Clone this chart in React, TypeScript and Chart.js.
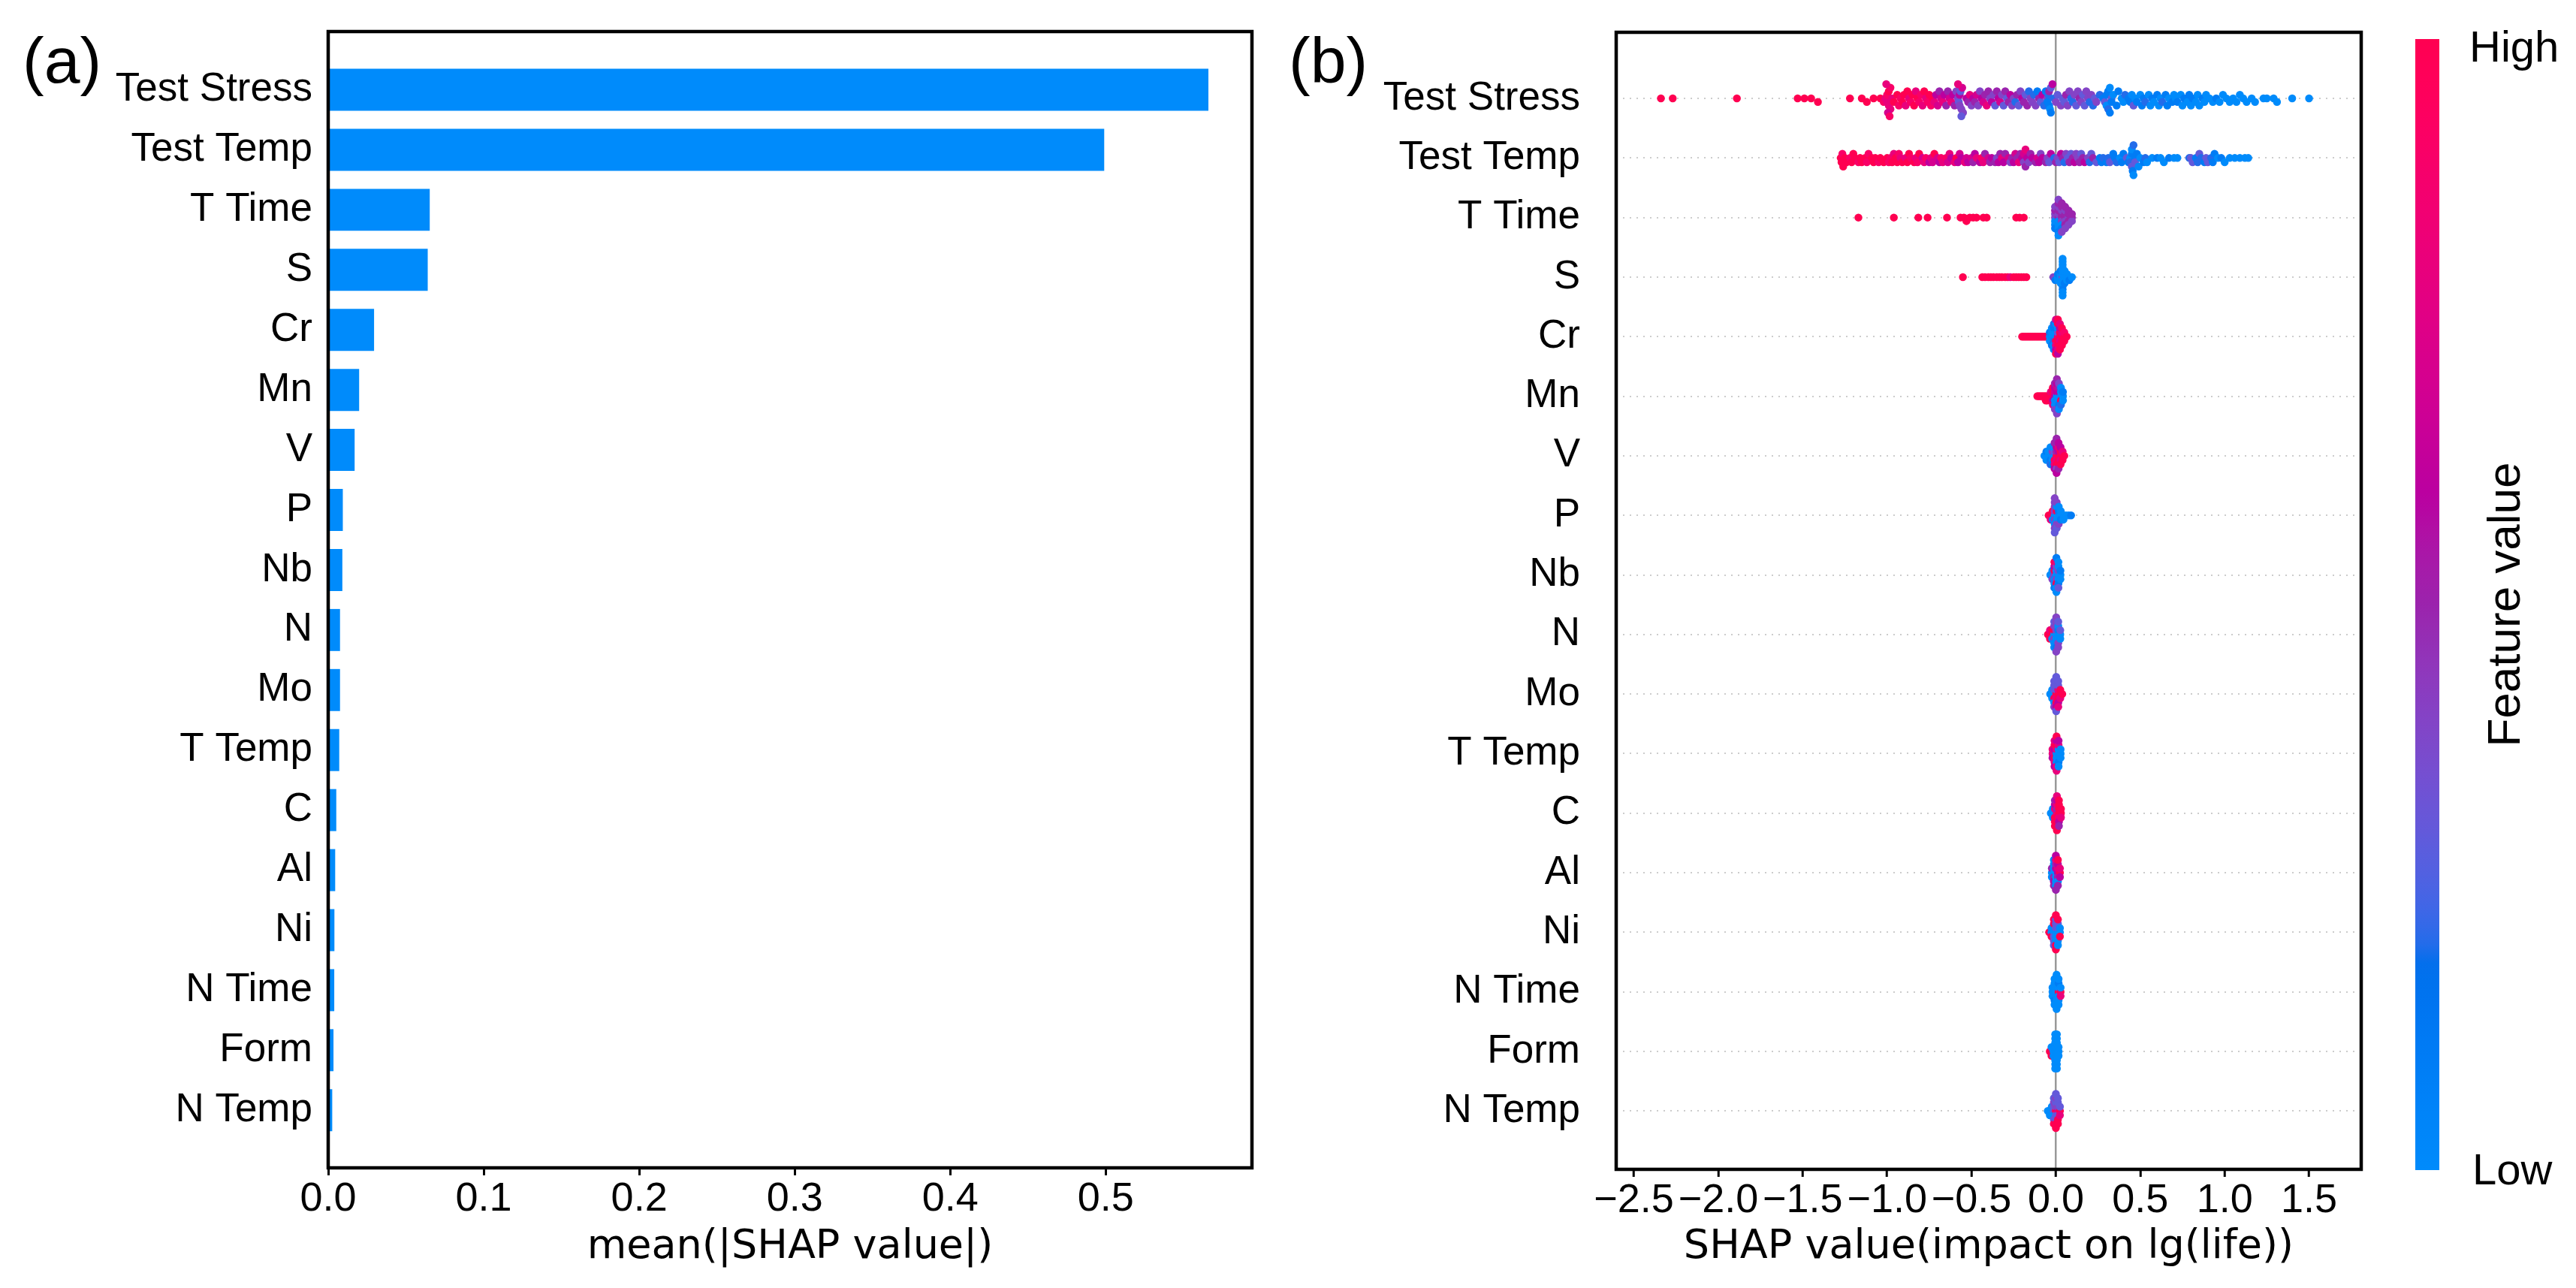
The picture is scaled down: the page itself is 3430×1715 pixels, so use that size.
import React, { useEffect, useRef } from "react";
import { Chart, registerables } from "chart.js";

Chart.register(...registerables);

// ---------------- data ----------------
const features = ["Test Stress", "Test Temp", "T Time", "S", "Cr", "Mn", "V", "P", "Nb", "N", "Mo", "T Temp", "C", "Al", "Ni", "N Time", "Form", "N Temp"];
const meanAbsShap = [0.566, 0.499, 0.0653, 0.064, 0.0295, 0.0199, 0.017, 0.0094, 0.0091, 0.0076, 0.0076, 0.0071, 0.0052, 0.0045, 0.004, 0.0039, 0.0034, 0.0026];
const barTicks = [0, 0.1, 0.2, 0.3, 0.4, 0.5];
const shapTicks = [-2.5, -2, -1.5, -1, -0.5, 0, 0.5, 1, 1.5];
const barTitle = "mean(|SHAP value|)";
const swarmTitle = "SHAP value(impact on lg(life))";
const colorbarTitle = "Feature value";
const colorbarHigh = "High";
const colorbarLow = "Low";

// Beeswarm rows: each entry = [SHAP value, feature level(s) 0..10 (Low..High)].
// Several levels after one SHAP value = several samples sharing that value.
const rowTestStress = [
  [-2.34, 10], [-2.27, 10], [-1.89, 10], [-1.53, 10], [-1.49, 10], [-1.45, 10], [-1.41, 10], [-1.22, 10], [-1.15, 10], [-1.12, 10], [-1.08, 10],
  [-1.04, 10], [-1.02, 9], [-1.01, 8], [-1.0, 8], [-1.0, 9], [-0.99, 8], [-0.99, 10], [-0.98, 8], [-0.98, 9], [-0.97, 8], [-0.96, 10], [-0.995, 7], [-1.005, 8], [-0.985, 9],
  [-0.94, 10], [-0.93, 9], [-0.92, 9], [-0.91, 10], [-0.9, 10], [-0.89, 8], [-0.88, 10], [-0.87, 8], [-0.86, 9], [-0.85, 10], [-0.84, 10], [-0.83, 8], [-0.82, 10], [-0.81, 9], [-0.8, 9], [-0.79, 8], [-0.78, 10], [-0.77, 8], [-0.76, 9], [-0.75, 10], [-0.74, 9], [-0.73, 10], [-0.72, 8],
  [-0.71, 6], [-0.7, 7], [-0.69, 5], [-0.68, 7], [-0.67, 8], [-0.66, 6], [-0.65, 5], [-0.64, 5], [-0.63, 7], [-0.62, 8], [-0.61, 6], [-0.6, 5], [-0.59, 4], [-0.58, 4], [-0.575, 3], [-0.57, 6], [-0.57, 4], [-0.565, 3], [-0.56, 4], [-0.555, 7], [-0.55, 4], [-0.58, 8], [-0.56, 3], [-0.53, 6], [-0.52, 5], [-0.51, 8], [-0.5, 4],
  [-0.49, 6], [-0.48, 5], [-0.47, 7], [-0.46, 4], [-0.45, 4], [-0.44, 6], [-0.43, 7], [-0.42, 5], [-0.41, 8], [-0.4, 5], [-0.39, 4], [-0.38, 6], [-0.37, 4], [-0.36, 3], [-0.35, 5], [-0.34, 6], [-0.33, 7], [-0.32, 4], [-0.31, 3], [-0.3, 5], [-0.29, 3], [-0.28, 5], [-0.27, 6], [-0.26, 4], [-0.25, 4], [-0.24, 2], [-0.23, 5], [-0.22, 3], [-0.21, 4], [-0.2, 6], [-0.19, 5], [-0.18, 3], [-0.17, 5], [-0.16, 2], [-0.15, 4], [-0.14, 4],
  [-0.13, 2], [-0.12, 4], [-0.11, 1], [-0.1, 5], [-0.09, 3], [-0.08, 6], [-0.07, 2], [-0.06, 1], [-0.05, 4], [-0.05, 1], [-0.045, 2], [-0.04, 1], [-0.04, 5], [-0.035, 0], [-0.03, 3], [-0.03, 1], [-0.02, 6], [-0.01, 2], [0.0, 4], [0.01, 3],
  [0.03, 4], [0.04, 3], [0.05, 3], [0.06, 5], [0.07, 4], [0.08, 4], [0.09, 2], [0.1, 2], [0.11, 4], [0.12, 3], [0.13, 4], [0.14, 5], [0.15, 4], [0.16, 3], [0.17, 3], [0.18, 4], [0.19, 4], [0.2, 2], [0.21, 4], [0.22, 2], [0.23, 3], [0.24, 4],
  [0.26, 2], [0.28, 1], [0.29, 3], [0.3, 1], [0.3, 0], [0.31, 1], [0.31, 2], [0.32, 0], [0.32, 1], [0.33, 3], [0.33, 1], [0.34, 0],
  [0.36, 1], [0.37, 1], [0.39, 0], [0.4, 0], [0.41, 2], [0.43, 1], [0.44, 1], [0.45, 0], [0.46, 3], [0.47, 0], [0.48, 1], [0.5, 0], [0.51, 1], [0.52, 1], [0.53, 2], [0.55, 0], [0.56, 0], [0.57, 1], [0.58, 0], [0.6, 1], [0.61, 0], [0.62, 0], [0.63, 2], [0.65, 1], [0.66, 1], [0.67, 0], [0.69, 1], [0.7, 0], [0.71, 0], [0.72, 1], [0.74, 0], [0.75, 0], [0.76, 1], [0.78, 0], [0.79, 1], [0.8, 0], [0.81, 1], [0.83, 0], [0.84, 0], [0.85, 0], [0.87, 1], [0.88, 0], [0.89, 0], [0.91, 0], [0.93, 0], [0.95, 1], [0.97, 0], [0.99, 0], [1.01, 0], [1.03, 0], [1.05, 0], [1.07, 0], [1.09, 0], [1.11, 0], [1.13, 0], [1.16, 0], [1.18, 0],
  [1.23, 0], [1.25, 0], [1.29, 0], [1.31, 0], [1.4, 0], [1.5, 0],
];
const rowTestTemp = [
  [-1.275, 10], [-1.27, 10], [-1.265, 9], [-1.26, 10], [-1.25, 10], [-1.24, 10], [-1.22, 9], [-1.21, 10], [-1.2, 10], [-1.19, 10], [-1.17, 9], [-1.16, 10], [-1.15, 10], [-1.13, 10], [-1.12, 9], [-1.11, 9], [-1.09, 10], [-1.08, 10], [-1.07, 10], [-1.05, 9], [-1.04, 10],
  [-1.02, 10], [-1.0, 10], [-0.99, 9], [-0.98, 9], [-0.97, 10], [-0.96, 8], [-0.95, 10], [-0.94, 10], [-0.93, 9], [-0.92, 8], [-0.91, 10], [-0.89, 8], [-0.88, 10], [-0.87, 10], [-0.86, 9], [-0.84, 10], [-0.83, 8], [-0.82, 9], [-0.81, 10],
  [-0.79, 7], [-0.78, 8], [-0.77, 9], [-0.75, 6], [-0.74, 8], [-0.73, 7], [-0.72, 10], [-0.7, 7], [-0.69, 6], [-0.68, 9], [-0.67, 8], [-0.65, 9], [-0.64, 7], [-0.63, 8], [-0.62, 6], [-0.6, 8], [-0.59, 10], [-0.58, 6], [-0.57, 7], [-0.56, 6],
  [-0.54, 8], [-0.53, 7], [-0.52, 6], [-0.5, 7], [-0.49, 5], [-0.48, 6], [-0.47, 8], [-0.45, 6], [-0.44, 9], [-0.43, 8], [-0.42, 5], [-0.4, 7], [-0.39, 5], [-0.38, 6], [-0.36, 5], [-0.35, 4], [-0.34, 6], [-0.33, 5], [-0.32, 8],
  [-0.31, 6], [-0.3, 5], [-0.28, 7], [-0.27, 4], [-0.26, 5], [-0.25, 6], [-0.24, 7], [-0.23, 5], [-0.22, 8], [-0.21, 5], [-0.2, 6], [-0.19, 4], [-0.19, 7], [-0.18, 5], [-0.18, 8], [-0.17, 6], [-0.16, 4], [-0.15, 5], [-0.14, 6], [-0.12, 5], [-0.11, 7], [-0.1, 6], [-0.09, 4], [-0.08, 6], [-0.06, 5], [-0.05, 4],
  [-0.04, 3], [-0.03, 6], [-0.01, 2], [0.0, 5], [0.01, 4], [0.02, 3], [0.03, 6], [0.04, 5], [0.05, 2], [0.06, 4], [0.07, 3], [0.08, 5], [0.09, 3], [0.1, 5], [0.11, 6], [0.12, 4], [0.13, 4], [0.14, 5], [0.15, 3], [0.16, 5], [0.17, 6], [0.19, 4], [0.2, 2], [0.21, 3], [0.22, 5], [0.24, 3],
  [0.26, 1], [0.27, 1], [0.28, 2], [0.3, 1], [0.31, 2], [0.32, 3], [0.34, 1], [0.35, 1], [0.36, 2], [0.38, 0], [0.39, 1], [0.4, 1], [0.42, 3], [0.43, 1], [0.44, 0], [0.44, 2], [0.45, 1], [0.45, 3], [0.45, 0], [0.455, 1], [0.46, 2], [0.46, 0], [0.47, 1], [0.47, 3], [0.48, 1], [0.49, 0], [0.5, 0], [0.52, 1], [0.53, 2], [0.54, 0],
  [0.57, 0], [0.6, 1], [0.62, 0], [0.64, 0], [0.67, 1], [0.7, 0], [0.72, 0],
  [0.79, 2], [0.8, 3], [0.81, 3], [0.83, 1], [0.84, 2], [0.85, 3], [0.86, 2], [0.88, 1], [0.89, 3], [0.9, 3], [0.92, 2], [0.93, 1], [0.94, 1], [0.96, 0], [0.98, 1], [1.0, 0], [1.03, 0], [1.06, 0], [1.09, 0], [1.12, 0], [1.14, 0],
];
const rowTTime = [
  [-1.17, 10], [-0.96, 10], [-0.815, 10], [-0.76, 10], [-0.645, 10], [-0.565, 10], [-0.545, 10], [-0.53, 10], [-0.51, 10], [-0.49, 10], [-0.47, 10], [-0.43, 10], [-0.41, 10], [-0.235, 10], [-0.215, 10], [-0.19, 10],
  [-0.005, 4, 0, 4, 0, 5, 1, 4], [0.015, 5, 0, 4, 0, 5, 0, 4, 1, 5, 0, 4], [0.035, 5, 4, 5, 0, 4, 1, 5, 4, 5], [0.055, 5, 4, 5, 5, 4, 4, 5], [0.075, 4, 5, 5, 4, 5], [0.095, 5, 4, 5],
];
const rowS = [
  [-0.551, 10], [-0.436, 10], [-0.42, 10], [-0.4, 10], [-0.385, 10], [-0.37, 10], [-0.35, 10], [-0.335, 10], [-0.32, 10], [-0.3, 10], [-0.285, 10], [-0.27, 8], [-0.25, 10], [-0.235, 10], [-0.22, 10], [-0.205, 10], [-0.19, 10], [-0.175, 10],
  [-0.015, 4], [-0.003, 4, 1], [0.012, 0, 0, 1], [0.028, 0, 0, 0, 0, 1], [0.04, 4, 0, 0, 0, 0, 0, 0, 1, 0, 0, 0, 0, 0], [0.052, 0, 0, 0, 1, 0], [0.066, 0, 0, 0], [0.08, 0, 1], [0.095, 0],
];
const rowCr = [
  [-0.2, 10], [-0.19, 10], [-0.18, 10], [-0.17, 10], [-0.16, 10], [-0.15, 10], [-0.14, 10], [-0.13, 10], [-0.12, 10], [-0.11, 10], [-0.1, 10], [-0.09, 10], [-0.08, 10], [-0.07, 10], [-0.06, 10], [-0.05, 10],
  [-0.036, 0, 0, 1], [-0.024, 0, 0, 0, 1, 0], [-0.012, 0, 2, 0, 0, 1, 0, 2], [0.0, 0, 10, 0, 8, 1, 6, 0, 10, 7], [0.012, 8, 10, 3, 10, 0, 8, 10, 6, 10], [0.024, 10, 8, 10, 10, 6, 10, 8], [0.036, 10, 10, 8, 10, 10], [0.05, 10, 10, 9], [0.064, 10],
];
const rowMn = [
  [-0.11, 10], [-0.1, 10], [-0.09, 10], [-0.08, 10], [-0.07, 10], [-0.06, 10, 10], [-0.05, 10, 10],
  [-0.03, 10, 10, 8], [-0.018, 10, 6, 10, 8, 10], [-0.006, 6, 0, 7, 0, 6, 4, 5], [0.006, 0, 0, 6, 0, 7, 4, 6, 4, 5], [0.018, 0, 0, 6, 1, 5, 0, 4], [0.03, 0, 10, 0, 2, 0], [0.042, 0, 0, 1],
];
const rowV = [
  [-0.068, 0], [-0.056, 0, 0, 1], [-0.044, 0, 0, 0], [-0.032, 0, 1, 0, 2, 0], [-0.02, 0, 0, 4, 1, 0], [-0.008, 0, 10, 3, 8, 0, 6, 5], [0.004, 10, 8, 5, 10, 6, 4, 5, 6, 5], [0.016, 10, 10, 6, 10, 8, 5, 6], [0.028, 10, 8, 10, 10, 6], [0.04, 10, 10, 8], [0.05, 10],
];
const rowP = [
  [-0.043, 10], [-0.031, 10, 8], [-0.019, 10, 0, 10], [-0.007, 0, 4, 4, 0, 4, 4, 4, 3, 4], [0.005, 0, 0, 10, 4, 0, 3, 4], [0.017, 0, 0, 1, 4, 0], [0.029, 0, 1, 0], [0.045, 0, 0], [0.06, 0], [0.075, 0], [0.09, 1],
];
const rowNb = [
  [-0.033, 0], [-0.021, 0, 4, 0], [-0.009, 4, 0, 10, 0, 6, 1, 10], [0.003, 0, 4, 0, 10, 4, 0, 8, 0, 1], [0.015, 0, 0, 4, 1, 0, 3, 0], [0.027, 0, 0, 1],
];
const rowN = [
  [-0.047, 10], [-0.035, 10, 10, 8], [-0.022, 10, 0, 10], [-0.01, 0, 4, 10, 0, 4, 0, 3], [0.002, 0, 0, 4, 0, 4, 1, 4, 4, 4], [0.014, 0, 0, 1, 4, 0, 4, 3], [0.026, 0, 0, 3],
];
const rowMo = [
  [-0.034, 0], [-0.022, 0, 0, 0], [-0.01, 0, 10, 3, 0, 3, 4, 3], [0.002, 10, 8, 3, 10, 3, 6, 3, 3, 3], [0.014, 10, 10, 8, 6, 3, 8, 3], [0.026, 10, 8, 10], [0.038, 10],
];
const rowTTemp = [
  [-0.02, 8, 6, 8], [-0.008, 8, 10, 6, 8, 10, 6, 8], [0.004, 0, 0, 8, 0, 10, 8, 6, 8, 10], [0.016, 0, 0, 0, 1, 8, 0, 6], [0.028, 0, 0, 0],
];
const rowC = [
  [-0.03, 0], [-0.018, 0, 0, 0], [-0.006, 0, 10, 8, 10, 6, 10, 5], [0.006, 8, 10, 5, 10, 8, 10, 6, 10, 8], [0.018, 10, 8, 10, 6, 10, 5, 10], [0.03, 10, 8, 10],
];
const rowAl = [
  [-0.024, 0, 0, 5], [-0.012, 0, 5, 0, 6, 0, 5, 0], [0.0, 0, 0, 6, 0, 5, 0, 8, 5, 6], [0.012, 6, 5, 8, 0, 6, 5, 10], [0.024, 10, 6, 8],
];
const rowNi = [
  [-0.04, 10], [-0.026, 0, 10, 0], [-0.012, 0, 3, 0, 3, 10, 3, 10], [0.0, 0, 0, 3, 0, 3, 10, 3, 10, 10], [0.012, 0, 0, 3, 0, 3, 0, 10], [0.024, 0, 10, 0],
];
const rowNTime = [
  [-0.02, 0, 0, 0], [-0.008, 0, 0, 0, 1, 0, 0, 0], [0.004, 0, 0, 0, 0, 0, 0, 0, 0, 0], [0.016, 10, 0, 0, 0, 1, 0, 0], [0.028, 10, 8, 0],
];
const rowForm = [
  [-0.036, 10], [-0.026, 10, 10, 0], [-0.014, 0, 0, 0], [-0.004, 0, 0, 0, 0, 0, 0, 0, 0, 0], [0.006, 0, 0, 0, 0, 0, 0, 0, 0, 0], [0.016, 0, 0, 0],
];
const rowNTemp = [
  [-0.048, 0], [-0.036, 0, 0], [-0.024, 0, 0, 0], [-0.012, 3, 0, 3, 3, 4, 10, 3], [0.0, 10, 3, 4, 3, 3, 10, 4, 10, 3], [0.012, 8, 3, 4, 10, 3, 10, 3], [0.024, 10, 8, 3],
];
const beeswarmRows = [rowTestStress, rowTestTemp, rowTTime, rowS, rowCr, rowMn, rowV, rowP, rowNb, rowN, rowMo, rowTTemp, rowC, rowAl, rowNi, rowNTime, rowForm, rowNTemp];

// ---------------- SHAP red_blue colormap (LCH interpolation) ----------------
const BLUE_LCH = [54, 70, 4.6588];
const RED_LCH = [54, 90, 0.35470565 + 2 * Math.PI];
const L_MID = 40;
function lchToRgb(l: number, c: number, h: number) {
  const a = c * Math.cos(h), b = c * Math.sin(h);
  const fy = (l + 16) / 116, fx = fy + a / 500, fz = fy - b / 200;
  const d = 6 / 29;
  const finv = (t: number) => (t > d ? t * t * t : 3 * d * d * (t - 4 / 29));
  const X = 0.95047 * finv(fx), Y = finv(fy), Z = 1.08883 * finv(fz);
  const lin = [
    3.2404542 * X - 1.5371385 * Y - 0.4985314 * Z,
    -0.969266 * X + 1.8760108 * Y + 0.041556 * Z,
    0.0556434 * X - 0.2040259 * Y + 1.0572252 * Z,
  ];
  return lin.map((v) => {
    const u = Math.min(1, Math.max(0, v));
    const s = u <= 0.0031308 ? 12.92 * u : 1.055 * Math.pow(u, 1 / 2.4) - 0.055;
    return Math.min(1, Math.max(0, s)) * 255;
  });
}
const cmapSamples: number[][] = [];
for (let i = 0; i < 100; i++) {
  const l = i < 50 ? BLUE_LCH[0] + ((L_MID - BLUE_LCH[0]) * i) / 49 : L_MID + ((RED_LCH[0] - L_MID) * (i - 50)) / 49;
  const c = BLUE_LCH[1] + ((RED_LCH[1] - BLUE_LCH[1]) * i) / 99;
  const h = BLUE_LCH[2] + ((RED_LCH[2] - BLUE_LCH[2]) * i) / 99;
  cmapSamples.push(lchToRgb(l, c, h));
}
function cmap(t: number) {
  const p = Math.max(0, Math.min(1, t)) * 99;
  const i = Math.min(98, Math.floor(p));
  const f = p - i;
  const a = cmapSamples[i], b = cmapSamples[i + 1];
  const r = a.map((v, k) => Math.round(v + (b[k] - v) * f));
  return `rgb(${r[0]},${r[1]},${r[2]})`;
}

// ---------------- beeswarm layout (as in shap.summary_plot) ----------------
function beeswarmOffsets(xs: number[], nbins = 80, rowHeight = 0.4) {
  const mn = Math.min(...xs), mx = Math.max(...xs);
  const quant = xs.map((x) => Math.round((nbins * (x - mn)) / (mx - mn + 1e-8)));
  const inds = xs.map((_, i) => i).sort((a, b) => quant[a] - quant[b] || a - b);
  const ys = new Array(xs.length).fill(0);
  let layer = 0, lastBin = -1;
  for (const ind of inds) {
    if (quant[ind] !== lastBin) layer = 0;
    ys[ind] = Math.ceil(layer / 2) * ((layer % 2) * 2 - 1);
    layer++;
    lastBin = quant[ind];
  }
  const m = Math.max(...ys.map((y) => y + 1));
  return ys.map((y) => (y * 0.9 * rowHeight) / m);
}

const swarmPoints: { x: number; y: number }[] = [];
const swarmColors: string[] = [];
beeswarmRows.forEach((row, r) => {
  const xs: number[] = [], cs: number[] = [];
  row.forEach((e) => {
    for (let k = 1; k < e.length; k++) {
      xs.push(e[0]);
      cs.push(e[k]);
    }
  });
  const offs = beeswarmOffsets(xs);
  xs.forEach((x, i) => {
    swarmPoints.push({ x, y: r + offs[i] });
    swarmColors.push(cmap(cs[i] / 10));
  });
});

// ---------------- styling helpers ----------------
const SANS = "Liberation Sans";
const framePlugin = {
  id: "frame",
  afterDraw(chart: any) {
    const { ctx, chartArea: a } = chart;
    ctx.save();
    ctx.strokeStyle = "#000";
    ctx.lineWidth = 4.5;
    ctx.strokeRect(a.left, a.top, a.right - a.left, a.bottom - a.top);
    ctx.restore();
  },
};
const panelLabel = (text: string, x: number, y: number) => ({
  id: "panelLabel",
  afterDraw(chart: any) {
    const ctx = chart.ctx;
    ctx.save();
    ctx.font = `86px "${SANS}"`;
    ctx.fillStyle = "#000";
    ctx.textAlign = "left";
    ctx.textBaseline = "alphabetic";
    ctx.fillText(text, x, y);
    ctx.restore();
  },
});
const colorbarPlugin = {
  id: "colorbar",
  afterDraw(chart: any) {
    const { ctx, chartArea: a } = chart;
    const x0 = a.right + 72, w = 32, y0 = a.top + 9, y1 = a.bottom + 1;
    const g = ctx.createLinearGradient(0, y1, 0, y0);
    for (let i = 0; i <= 60; i++) g.addColorStop(i / 60, cmap(i / 60));
    ctx.save();
    ctx.fillStyle = g;
    ctx.fillRect(x0, y0, w, y1 - y0);
    ctx.fillStyle = "#000";
    ctx.font = `58px "${SANS}"`;
    ctx.textAlign = "left";
    ctx.textBaseline = "alphabetic";
    ctx.fillText(colorbarHigh, x0 + w + 40, y0 + 30);
    ctx.fillText(colorbarLow, x0 + w + 44, y1 + 19);
    ctx.font = `62px "${SANS}"`;
    ctx.translate(x0 + w + 90, (y0 + y1) / 2);
    ctx.rotate(-Math.PI / 2);
    ctx.textAlign = "center";
    ctx.textBaseline = "middle";
    ctx.fillText(colorbarTitle, 0, 0);
    ctx.restore();
  },
};
const fmtTick = (v: number) => (v < 0 ? "\u2212" + Math.abs(v).toFixed(1) : Number(v).toFixed(1));

export default function App() {
  const refA = useRef<HTMLCanvasElement | null>(null);
  const refB = useRef<HTMLCanvasElement | null>(null);

  useEffect(() => {
    const tickFont = { family: SANS, size: 54 };
    const catFont = { family: SANS, size: 53 };
    const titleFont = { family: "DejaVu Sans", size: 54 };

    const chartA = new Chart(refA.current as HTMLCanvasElement, {
      type: "bar",
      data: {
        datasets: [
          {
            data: meanAbsShap.map((v, i) => ({ x: v, y: i })),
            backgroundColor: "#008bfb",
            borderWidth: 0,
            barPercentage: 0.7,
            categoryPercentage: 1,
          },
        ],
      },
      options: {
        indexAxis: "y",
        animation: false,
        responsive: false,
        devicePixelRatio: 1,
        events: [],
        layout: { padding: { top: 42, right: 33, left: 0, bottom: 0 } },
        plugins: { legend: { display: false }, tooltip: { enabled: false } },
        scales: {
          x: {
            type: "linear",
            min: 0,
            max: 0.594,
            afterBuildTicks: (s: any) => { s.ticks = barTicks.map((v) => ({ value: v })); },
            afterFit: (s: any) => { s.height = 160; s.paddingLeft = 0; s.paddingRight = 0; },
            grid: { drawOnChartArea: false, drawTicks: true, tickLength: 10, tickWidth: 3, tickColor: "#000", color: "#000" },
            border: { display: false },
            ticks: { font: tickFont, color: "#000", padding: 0, maxRotation: 0, autoSkip: false, callback: (v: any) => fmtTick(Number(v)) },
            title: { display: true, text: barTitle, font: titleFont, color: "#000", padding: { top: 0, bottom: 22 } },
          },
          y: {
            type: "linear",
            offset: false,
            reverse: true,
            min: -0.97,
            max: 17.96,
            afterBuildTicks: (s: any) => { s.ticks = features.map((_, i) => ({ value: i })); },
            afterFit: (s: any) => { s.width = 437; s.paddingTop = 0; s.paddingBottom = 0; },
            grid: { display: false, drawTicks: false, offset: false },
            border: { display: false },
            ticks: { font: catFont, color: "#000", padding: 21, autoSkip: false, callback: (v: any) => features[Number(v)] ?? "" },
          },
        },
      } as any,
      plugins: [framePlugin, panelLabel("(a)", 30, 110)],
    });

    const chartB = new Chart(refB.current as HTMLCanvasElement, {
      type: "scatter",
      data: {
        datasets: [
          {
            data: swarmPoints,
            pointBackgroundColor: swarmColors,
            pointBorderWidth: 0,
            pointRadius: 5.25,
            pointHoverRadius: 5.25,
          },
        ],
      },
      options: {
        animation: false,
        responsive: false,
        devicePixelRatio: 1,
        events: [],
        layout: { padding: { top: 43, right: 286, left: 0, bottom: 0 } },
        plugins: { legend: { display: false }, tooltip: { enabled: false } },
        scales: {
          x: {
            type: "linear",
            min: -2.605,
            max: 1.809,
            afterBuildTicks: (s: any) => { s.ticks = shapTicks.map((v) => ({ value: v })); },
            afterFit: (s: any) => { s.height = 158; s.paddingLeft = 0; s.paddingRight = 0; },
            grid: {
              drawOnChartArea: true,
              color: (c: any) => (c.tick && c.tick.value === 0 ? "#999999" : "rgba(0,0,0,0)"),
              lineWidth: 2.5,
              drawTicks: true,
              tickLength: 10,
              tickWidth: 3,
              tickColor: "#000",
            },
            border: { display: false },
            ticks: { font: tickFont, color: "#000", padding: 0, maxRotation: 0, autoSkip: false, callback: (v: any) => fmtTick(Number(v)) },
            title: { display: true, text: swarmTitle, font: titleFont, color: "#000", padding: { top: 0, bottom: 22 } },
          },
          y: {
            type: "linear",
            reverse: true,
            min: -1.11,
            max: 17.98,
            afterBuildTicks: (s: any) => { s.ticks = features.map((_, i) => ({ value: i })); },
            afterFit: (s: any) => { s.width = 452; s.paddingTop = 0; s.paddingBottom = 0; },
            grid: { color: "#cccccc", lineWidth: 2, drawTicks: false },
            border: { display: false, dash: [2, 7] },
            ticks: { font: catFont, color: "#000", padding: 48, autoSkip: false, callback: (v: any) => features[Number(v)] ?? "" },
          },
        },
      } as any,
      plugins: [framePlugin, colorbarPlugin, panelLabel("(b)", 16, 110)],
    });

    return () => {
      chartA.destroy();
      chartB.destroy();
    };
  }, []);

  return (
    <div style={{ position: "fixed", left: 0, top: 0, width: 3430, height: 1715, background: "#fff" }}>
      <canvas ref={refA} width={1700} height={1715} style={{ position: "absolute", left: 0, top: 0, width: 1700, height: 1715 }} />
      <canvas ref={refB} width={1730} height={1715} style={{ position: "absolute", left: 1700, top: 0, width: 1730, height: 1715 }} />
    </div>
  );
}
